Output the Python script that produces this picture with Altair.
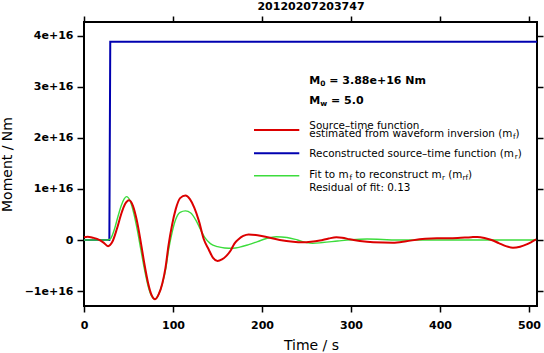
import altair as alt
import pandas as pd

FONT = "DejaVu Sans"
E16 = 1e16

# ---------------- data (moment values in units of 1e16 Nm) ----------------
time_red = [0, 4, 10, 17.6, 22, 27, 32, 37, 42, 46, 50.6, 55, 59, 63.7, 68, 72, 76,
            79.8, 84, 88, 91.5, 95, 99, 103, 108, 114, 119, 124, 129, 134.5, 140,
            145, 150, 155, 160, 165, 169, 174, 179, 185, 195, 205, 220, 235, 245,
            255, 265, 275, 283.6, 290, 298.5, 310, 325, 347, 362, 377, 390, 400,
            420, 435, 442, 450, 458, 466, 474, 482, 490, 498, 508]
moment_red = [0.053, 0.065, 0.045, 0.0, -0.05, -0.12, -0.03, 0.22, 0.52, 0.70, 0.78,
              0.67, 0.41, -0.03, -0.48, -0.84, -1.08, -1.16, -1.06, -0.85, -0.55,
              -0.10, 0.30, 0.60, 0.82, 0.87, 0.80, 0.63, 0.38, 0.02, -0.18, -0.35,
              -0.41, -0.38, -0.31, -0.20, -0.07, 0.02, 0.08, 0.11, 0.095, 0.06, 0.0,
              -0.035, -0.045, -0.035, -0.01, 0.03, 0.053, 0.045, 0.014, -0.02,
              -0.045, -0.053, -0.025, 0.014, 0.03, 0.033, 0.04, 0.055, 0.06, 0.04,
              0.0, -0.06, -0.12, -0.15, -0.13, -0.08, 0.014]

time_green = [0, 27, 30, 34, 38, 42, 45, 47.6, 52, 56, 60, 64, 68, 72, 76, 79.5, 84,
              88, 92, 95, 99, 103, 108, 114, 120, 126, 131, 136, 142, 150, 158,
              167.4, 175, 185, 195, 205, 216, 228, 240, 250, 257, 268, 285, 300,
              318, 335, 350, 380, 508]
moment_green = [0.0, 0.0, 0.03, 0.2, 0.45, 0.68, 0.8, 0.85, 0.76, 0.52, 0.19, -0.2,
                -0.58, -0.9, -1.1, -1.16, -1.06, -0.86, -0.55, -0.2, 0.15, 0.4, 0.54,
                0.57, 0.53, 0.38, 0.2, 0.04, -0.07, -0.13, -0.155, -0.16, -0.14,
                -0.09, -0.03, 0.03, 0.065, 0.05, 0.0, -0.05, -0.065, -0.05, -0.02,
                0.005, 0.02, 0.01, 0.0, 0.0, 0.0]

time_blue = [0, 28.5, 29.5, 509]
moment_blue = [0.0, 0.0, 3.88, 3.88]

x_ticks = [0, 100, 200, 300, 400, 500]
y_ticks = [-1, 0, 1, 2, 3, 4]

title_text = "20120207203747"
m0_text = " = 3.88e+16 Nm"
mw_text = " = 5.0"
residual_text = "Residual of fit: 0.13"

RED = "#dc0000"
BLUE = "#0000b0"
GREEN = "#3cdc3c"

W, H = 453, 284
PAD_L, PAD_T = 84, 22


def frame(t, m):
    return pd.DataFrame({"t": t, "m": [v * E16 for v in m]})


df_red = frame(time_red, moment_red)
df_green = frame(time_green, moment_green)
df_blue = frame(time_blue, moment_blue)
dummy = pd.DataFrame({"d": [0]})

xscale = alt.Scale(domain=[0, 509], nice=False, zero=False)
yscale = alt.Scale(domain=[-1.292e16, 4.269e16], nice=False, zero=False)

common = dict(tickColor="black", tickWidth=1.5, domain=False, grid=False,
              labelFlush=False, labelOverlap=False)

x_bottom = alt.Axis(orient="bottom", values=x_ticks, tickSize=6, labelPadding=7.5,
                    labelFont=FONT, labelFontSize=11, labelFontWeight="bold",
                    labelColor="black", title="Time / s", titleFont=FONT,
                    titleFontSize=14, titleFontWeight="normal", titleColor="black",
                    titleX=227, titleY=43.5, titleBaseline="alphabetic",
                    titleAlign="center", **common)
y_left = alt.Axis(orient="left", values=[v * E16 for v in y_ticks], tickSize=7,
                  labelPadding=4, labelFont=FONT, labelFontSize=11,
                  labelFontWeight="bold", labelColor="black",
                  labelExpr="datum.value == 0 ? '0' : (datum.value < 0 ? '\u2212' : '') + format(abs(datum.value) / 1e16, 'd') + 'e+16'",
                  title="Moment / Nm", titleFont=FONT, titleFontSize=14,
                  titleFontWeight="normal", titleColor="black", titleX=-76.5,
                  titleY=142, titleAngle=270, titleBaseline="middle",
                  titleAlign="center", **common)
x_top = alt.Axis(orient="top", values=x_ticks, tickSize=6, labels=False, title="",
                 **common)
y_right = alt.Axis(orient="right", values=[v * E16 for v in y_ticks], tickSize=6,
                   labels=False, title="", **common)

blue = alt.Chart(df_blue).mark_line(color=BLUE, strokeWidth=2).encode(
    x=alt.X("t:Q", scale=xscale, axis=x_bottom),
    y=alt.Y("m:Q", scale=yscale, axis=y_left),
)
axes2 = alt.Chart(df_blue).mark_line(opacity=0).encode(
    x=alt.X("t:Q", scale=xscale, axis=x_top),
    y=alt.Y("m:Q", scale=yscale, axis=y_right),
)
green = alt.Chart(df_green).mark_line(color=GREEN, strokeWidth=1.4,
                                      interpolate="monotone").encode(
    x=alt.X("t:Q", scale=xscale, axis=None),
    y=alt.Y("m:Q", scale=yscale, axis=None),
)
red = alt.Chart(df_red).mark_line(color=RED, strokeWidth=2,
                                  interpolate="monotone").encode(
    x=alt.X("t:Q", scale=xscale, axis=None),
    y=alt.Y("m:Q", scale=yscale, axis=None),
)

# ---------------- annotation text (DejaVu Sans metrics for subscripts) ----------
REG = {" ": 318, "(": 390, ")": 390, "+": 838, ".": 318, "/": 337, ":": 337,
       "=": 838, "\u2013": 500, "F": 575, "M": 863, "N": 748, "R": 695, "S": 635,
       "a": 613, "c": 550, "d": 635, "e": 615, "f": 352, "i": 278, "l": 278,
       "m": 974, "n": 634, "o": 612, "r": 411, "s": 521, "t": 392, "u": 634,
       "v": 592, "w": 818}
BOLD = {" ": 348, "=": 838, ".": 380, "e": 678, "+": 838, "M": 995, "N": 837,
        "m": 1042, "w": 924}


def width(s, size, weight):
    table = BOLD if weight == "bold" else REG
    total = 0
    for c in s:
        if c.isdigit():
            total += 696 if weight == "bold" else 636
        else:
            total += table.get(c, 600)
    return total * size / 1000.0


def text_layer(txt, x, y, size, weight, align="left"):
    return alt.Chart(dummy).mark_text(
        text=txt, align=align, baseline="alphabetic", font=FONT, fontSize=size,
        fontWeight=weight, color="black"
    ).encode(x=alt.value(x), y=alt.value(y))


def runs(x0, y, parts):
    layers = []
    x = x0
    for txt, size, weight, dy in parts:
        lead = len(txt) - len(txt.lstrip(" "))
        core = txt.strip(" ")
        trail = len(txt) - lead - len(core)
        x += width(" " * lead, size, weight)
        if core:
            layers.append(text_layer(core, x, y + dy, size, weight))
        x += width(core, size, weight) + width(" " * trail, size, weight)
    return layers


TX = 309.3 - PAD_L
LS = 10.4
SUB = 7.2
texts = []
texts += runs(TX, 84 - PAD_T, [("M", 11, "bold", 0), ("0", 7.5, "bold", 2),
                               (m0_text, 11, "bold", 0)])
texts += runs(TX, 104 - PAD_T, [("M", 11, "bold", 0), ("w", 7.5, "bold", 2),
                                (mw_text, 11, "bold", 0)])
texts += runs(TX, 128.6 - PAD_T, [("Source\u2013time function", LS, "normal", 0)])
texts += runs(TX, 137 - PAD_T, [("estimated from waveform inversion (m", LS, "normal", 0),
                                ("f", SUB, "normal", 2), (")", LS, "normal", 0)])
texts += runs(TX, 156.5 - PAD_T, [("Reconstructed source\u2013time function (m", LS, "normal", 0),
                                  ("r", SUB, "normal", 2), (")", LS, "normal", 0)])
texts += runs(TX, 178 - PAD_T, [("Fit to m", LS, "normal", 0), ("f", SUB, "normal", 2),
                                (" to reconstruct m", LS, "normal", 0),
                                ("r", SUB, "normal", 2), (" (m", LS, "normal", 0),
                                ("rf", SUB, "normal", 2), (")", LS, "normal", 0)])
texts += runs(TX, 191 - PAD_T, [(residual_text, LS, "normal", 0)])

texts.append(text_layer(title_text, 227, -12, 11, "bold", align="center"))


def legend_rule(color, y, sw):
    return alt.Chart(dummy).mark_rule(color=color, strokeWidth=sw).encode(
        x=alt.value(254 - PAD_L), x2=alt.value(299.3 - PAD_L), y=alt.value(y - PAD_T)
    )


rules = [legend_rule(RED, 130, 2), legend_rule(BLUE, 153.3, 2),
         legend_rule(GREEN, 175.7, 1.4)]

chart = alt.layer(blue, axes2, green, red, *rules, *texts).resolve_axis(
    x="independent", y="independent"
).properties(
    width=W, height=H,
    autosize=alt.AutoSizeParams(type="none"),
    padding={"left": PAD_L, "top": PAD_T, "right": 544 - PAD_L - W,
             "bottom": 353 - PAD_T - H},
    background="white",
).configure_view(stroke="black", strokeWidth=2)

chart.save("out.html", embed_options={"renderer": "svg", "actions": False})
